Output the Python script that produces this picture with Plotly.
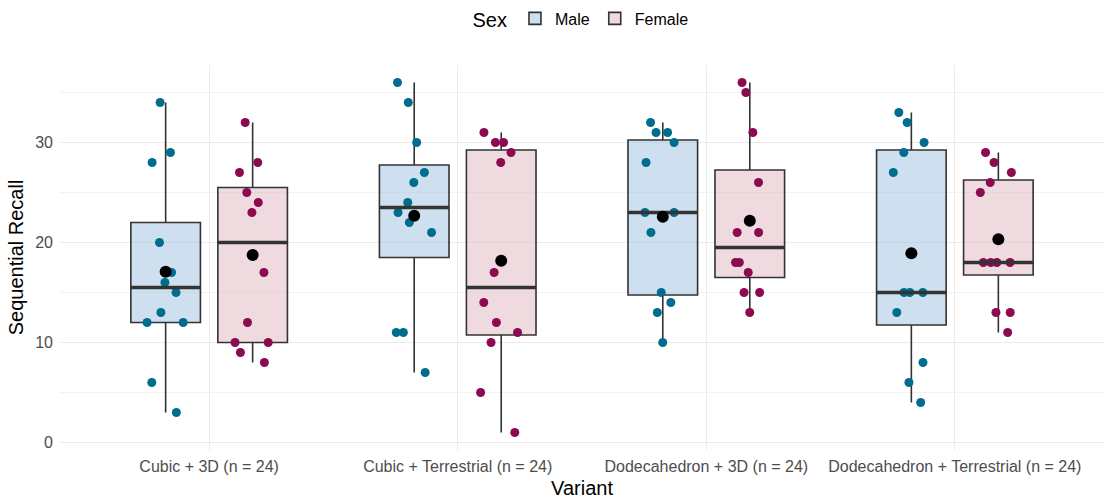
import numpy as np
import plotly.graph_objects as go

# Variant labels on the x axis
variants = [
    "Cubic + 3D (n = 24)",
    "Cubic + Terrestrial (n = 24)",
    "Dodecahedron + 3D (n = 24)",
    "Dodecahedron + Terrestrial (n = 24)",
]

# Sequential recall scores, 12 participants per sex per variant
male_cubic_3d = [34, 29, 28, 20, 17, 16, 15, 13, 12, 12, 6, 3]
male_cubic_terr = [36, 34, 30, 27, 26, 24, 23, 22, 21, 11, 11, 7]
male_dodec_3d = [32, 31, 31, 30, 28, 23, 23, 21, 15, 14, 13, 10]
male_dodec_terr = [33, 32, 30, 29, 27, 15, 15, 15, 13, 8, 6, 4]

female_cubic_3d = [32, 28, 27, 25, 24, 23, 17, 12, 10, 10, 9, 8]
female_cubic_terr = [31, 30, 30, 29, 28, 17, 14, 12, 11, 10, 5, 1]
female_dodec_3d = [36, 35, 31, 26, 21, 21, 18, 18, 17, 15, 15, 13]
female_dodec_terr = [29, 28, 27, 26, 25, 18, 18, 18, 18, 13, 13, 11]

male_scores = [male_cubic_3d, male_cubic_terr, male_dodec_3d, male_dodec_terr]
female_scores = [female_cubic_3d, female_cubic_terr, female_dodec_3d, female_dodec_terr]

DODGE = 0.175
BOX_W = 0.28
LINE_COL = "#333333"
FONT = "Liberation Sans, Arial, sans-serif"


def box_stats(vals):
    v = np.sort(np.asarray(vals, dtype=float))
    q1, med, q3 = np.percentile(v, [25, 50, 75])
    iqr = q3 - q1
    lo = v[v >= q1 - 1.5 * iqr].min()
    hi = v[v <= q3 + 1.5 * iqr].max()
    return q1, med, q3, lo, hi


fig = go.Figure()

groups = [
    ("Male", male_scores, -DODGE, "rgba(166,199,228,0.55)", "#006d8f"),
    ("Female", female_scores, DODGE, "rgba(226,190,196,0.55)", "#8b0a50"),
]

median_traces = []
point_traces = []
mean_traces = []

for name, scores, offset, fill, pt_col in groups:
    centers = [i + 1 + offset for i in range(len(variants))]
    stats = [box_stats(s) for s in scores]
    fig.add_trace(go.Box(
        name=name,
        x=centers,
        q1=[s[0] for s in stats],
        median=[s[1] for s in stats],
        q3=[s[2] for s in stats],
        lowerfence=[s[3] for s in stats],
        upperfence=[s[4] for s in stats],
        width=BOX_W,
        whiskerwidth=0,
        fillcolor=fill,
        line=dict(color=LINE_COL, width=1.6),
        boxpoints=False,
        legendgroup=name,
        hoverinfo="skip",
    ))

    # thicker median bar
    mx, my = [], []
    for c, s in zip(centers, stats):
        mx += [c - BOX_W / 2, c + BOX_W / 2, None]
        my += [s[1], s[1], None]
    median_traces.append(go.Scatter(
        x=mx, y=my, mode="lines",
        line=dict(color=LINE_COL, width=3.5),
        showlegend=False, hoverinfo="skip",
    ))

    # jittered individual scores
    px, py = [], []
    for c, s in zip(centers, scores):
        px += [c] * len(s)
        py += list(s)
    point_traces.append(go.Box(
        x=px, y=py,
        boxpoints="all", jitter=0.65, pointpos=0,
        width=BOX_W,
        fillcolor="rgba(0,0,0,0)",
        line=dict(color="rgba(0,0,0,0)", width=0),
        marker=dict(color=pt_col, size=9),
        showlegend=False, legendgroup=name,
        hoveron="points",
    ))

    mean_traces.append(go.Scatter(
        x=centers, y=[float(np.mean(s)) for s in scores],
        mode="markers",
        marker=dict(color="black", size=12),
        showlegend=False, hoverinfo="skip",
    ))

for t in point_traces + median_traces + mean_traces:
    fig.add_trace(t)

fig.update_layout(
    width=1104, height=500,
    margin=dict(l=60, r=0, t=65, b=50),
    paper_bgcolor="white", plot_bgcolor="white",
    boxmode="overlay",
    font=dict(family=FONT, color="black"),
    legend=dict(
        orientation="h",
        x=0.5, xanchor="center",
        y=1.165, yanchor="top",
        title=dict(text="Sex", font=dict(size=20, family=FONT)),
        font=dict(size=16, family=FONT),
    ),
    xaxis=dict(
        range=[0.4, 4.6],
        tickmode="array",
        tickvals=[1, 2, 3, 4],
        ticktext=variants,
        tickfont=dict(size=16, color="#4d4d4d"),
        showgrid=True, gridcolor="#ebebeb", gridwidth=1.3,
        zeroline=False, showline=False, ticks="",
        ticklabelstandoff=5,
        title=dict(text="Variant", font=dict(size=20), standoff=6),
        automargin=False,
    ),
    yaxis=dict(
        range=[-0.75, 37.75],
        tickmode="array",
        tickvals=[0, 10, 20, 30],
        tickfont=dict(size=16, color="#4d4d4d"),
        showgrid=True, gridcolor="#ebebeb", gridwidth=1.3,
        minor=dict(tickmode="array", tickvals=[5, 15, 25, 35],
                   showgrid=True, gridcolor="#f2f2f2", gridwidth=1),
        zeroline=False, showline=False, ticks="",
        ticklabelstandoff=6,
        title=dict(text="Sequential Recall", font=dict(size=20), standoff=6),
        automargin=False,
    ),
)

fig.write_html("out.html")
